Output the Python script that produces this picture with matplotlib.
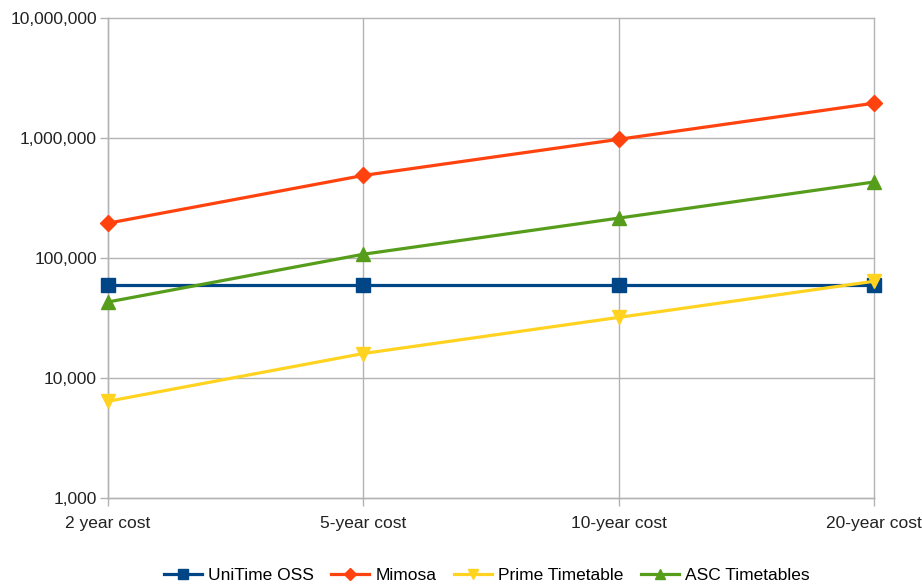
import matplotlib.pyplot as plt
from matplotlib.ticker import FuncFormatter, FixedLocator, NullLocator

plt.rcParams['font.family'] = ['Liberation Sans', 'DejaVu Sans']

categories = ["2 year cost", "5-year cost", "10-year cost", "20-year cost"]
unitime = [60000, 60000, 60000, 60000]
mimosa = [195000, 487500, 975000, 1950000]
prime = [6400, 16000, 32000, 64000]
asc = [43000, 107500, 215000, 430000]

series = [
    ("UniTime OSS", unitime, "#004586", "s"),
    ("Mimosa", mimosa, "#ff420e", "D"),
    ("Prime Timetable", prime, "#ffd320", "v"),
    ("ASC Timetables", asc, "#579d1c", "^"),
]

fig = plt.figure(figsize=(9.22, 5.86), dpi=100)
ax = fig.add_axes([108 / 922, 1 - 498 / 586, (874 - 108) / 922, (498 - 18) / 586])

x = list(range(len(categories)))
for name, vals, col, mk in series:
    ms = 8 if mk == "D" else 10
    ax.plot(x, vals, color=col, lw=2.3, marker=mk, markersize=ms,
            label=name, clip_on=False, zorder=3)

ax.set_yscale("log")
ax.set_ylim(1000, 10000000)
ax.set_xlim(0, 3)
ax.yaxis.set_major_locator(FixedLocator([1e3, 1e4, 1e5, 1e6, 1e7]))
ax.yaxis.set_minor_locator(NullLocator())
ax.yaxis.set_major_formatter(FuncFormatter(lambda v, p: f"{int(round(v)):,}"))
ax.set_xticks(x)
ax.set_xticklabels(categories)

grid_c = "#b3b3b3"
ax.grid(True, color=grid_c, lw=1)
for gl in ax.get_xgridlines() + ax.get_ygridlines():
    gl.set_clip_on(False)
ax.set_axisbelow(True)
for s in ["top", "right"]:
    ax.spines[s].set_visible(False)
for s in ["left", "bottom"]:
    ax.spines[s].set_color(grid_c)
    ax.spines[s].set_linewidth(1)
ax.tick_params(axis="both", colors=grid_c, length=6, width=1, labelsize=12.5,
               labelcolor="#222222")
ax.tick_params(axis="x", pad=7)
ax.tick_params(axis="y", pad=2)

fig.legend(loc="lower center", bbox_to_anchor=(0.528, -0.022), ncol=4,
           frameon=False, fontsize=12.5, handlelength=2.2, columnspacing=1.0,
           handletextpad=0.35, markerscale=0.75)

fig.savefig("out.png", dpi=100)
